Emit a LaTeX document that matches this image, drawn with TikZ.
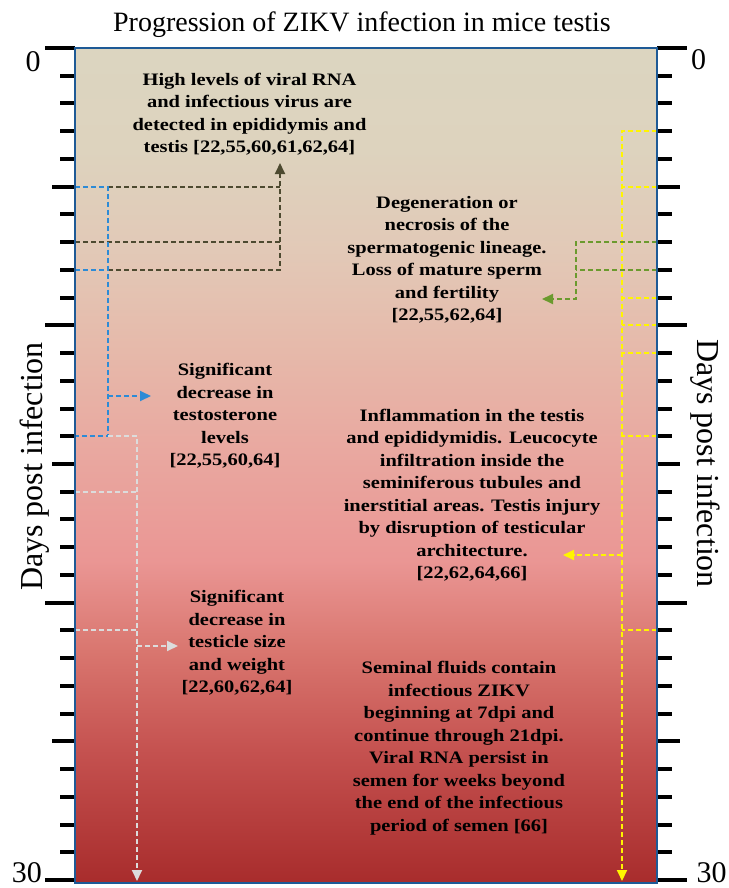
\documentclass[tikz,border=0pt]{standalone}
\usepackage{fontspec}
\setmainfont{Liberation Serif}
\newfontfamily\notefont[FakeStretch=1.17]{Liberation Serif}
\usepackage{tikz}
\usepackage{xcolor}
\usetikzlibrary{arrows.meta}
\definecolor{mFrame}{HTML}{1E5A96}
\definecolor{mOlive}{HTML}{4D4A30}
\definecolor{mBlue}{HTML}{2D8BD6}
\definecolor{mGrey}{HTML}{DCDCDC}
\definecolor{mYellow}{HTML}{FFF500}
\definecolor{mGreen}{HTML}{6B9A2E}
\definecolor{fadeA}{HTML}{DCD5C0}
\definecolor{fadeB}{HTML}{DDD3BE}
\definecolor{fadeC}{HTML}{E2C9B7}
\definecolor{fadeD}{HTML}{E6B9AA}
\definecolor{fadeE}{HTML}{E9A8A0}
\definecolor{fadeF}{HTML}{EA9694}
\definecolor{fadeG}{HTML}{D9766F}
\definecolor{fadeH}{HTML}{C55250}
\definecolor{fadeI}{HTML}{A82C2C}
\pgfdeclareverticalshading{bgfade}{100bp}{color(0bp)=(fadeI); color(25bp)=(fadeI);
  color(33bp)=(fadeH); color(38.9bp)=(fadeG); color(44.3bp)=(fadeF);
  color(50.9bp)=(fadeE); color(56.9bp)=(fadeD); color(62.9bp)=(fadeC);
  color(68.9bp)=(fadeB); color(75bp)=(fadeA); color(100bp)=(fadeA)}

\begin{document}
\begin{tikzpicture}[x=1pt, y=-1pt,
  note/.style={font=\notefont\bfseries\fontsize{17.5}{22.5}\selectfont, align=center},
  axtick/.style={line width=4pt, black},
  link/.style={dash pattern=on 5pt off 3pt, line width=1.9pt},
  tip/.style={-{Triangle[length=11pt,width=10pt]}},
]
  \useasboundingbox (0,0) rectangle (728,888);
  \shade[shading=bgfade] (75,48) rectangle (657,883);

  % day ticks on both sides
  \foreach \d in {0,...,30} {
    \pgfmathsetmacro{\tl}{mod(\d,10)==0 ? 30 : (mod(\d,5)==0 ? 23 : 15)}
    \coordinate (L\d) at (75,{48+27.733*\d});
    \coordinate (R\d) at (657,{48+27.733*\d});
    \draw[axtick] (L\d) -- ++(-\tl,0);
    \draw[axtick] (R\d) -- ++(\tl,0);
  }

  \coordinate (bx) at (108,0);
  \coordinate (gx) at (137,0);
  \coordinate (ox) at (280,0);
  \coordinate (yx) at (622,0);
  \coordinate (vx) at (576,0);
  \coordinate (olivetip) at (280,163);
  \coordinate (bluetip) at (151,396);
  \coordinate (greytip) at (178,646);
  \coordinate (greyend) at (137,881);
  \coordinate (yellowtip) at (563,555);
  \coordinate (yellowend) at (622,881);
  \coordinate (greentip) at (542,299);

  % left connectors
  \draw[link, mOlive] (L7) -- (L7 -| ox);
  \draw[link, mOlive] (L5 -| bx) -- (L5 -| ox);
  \draw[link, mOlive, tip] (L8 -| bx) -| (olivetip);
  \draw[link, mBlue] (L5) -| (L14 -| bx) -- (L14);
  \draw[link, mBlue] (L8) -- (L8 -| bx);
  \draw[link, mBlue, tip] (bluetip -| bx) -- (bluetip);
  \draw[link, mGrey, tip] (L14 -| bx) -| (greyend);
  \draw[link, mGrey] (L16) -- (L16 -| gx);
  \draw[link, mGrey] (L21) -- (L21 -| gx);
  \draw[link, mGrey, tip] (greytip -| gx) -- (greytip);

  % right connectors
  \draw[link, mYellow, tip] (R3) -| (yellowend);
  \foreach \d in {5,9,10,11,14,21}
    \draw[link, mYellow] (R\d) -- (R\d -| yx);
  \draw[link, mYellow, tip] (yellowtip -| yx) -- (yellowtip);
  \draw[link, mGreen, tip] (R7) -| (greentip -| vx) -- (greentip);
  \draw[link, mGreen] (R8) -- (R8 -| vx);

  \draw[mFrame, line width=2.5pt] (75,48) rectangle (657,883);

  \node[note] (viral) at (249.5,114) {High levels of viral RNA\\and infectious virus are\\detected in epididymis and\\testis [22,55,60,61,62,64]};
  \node[note] (sperm) at (447,260) {Degeneration or\\necrosis of the\\spermatogenic lineage.\\Loss of mature sperm\\and fertility\\{}[22,55,62,64]};
  \node[note] (testo) at (225,416) {Significant\\decrease in\\testosterone\\levels\\{}[22,55,60,64]};
  \node[note] (inflam) at (472,495) {Inflammation in the testis\\and epididymidis. Leucocyte\\infiltration inside the\\seminiferous tubules and\\inerstitial areas. Testis injury\\by disruption of testicular\\architecture.\\{}[22,62,64,66]};
  \node[note] (size) at (237,643) {Significant\\decrease in\\testicle size\\and weight\\{}[22,60,62,64]};
  \node[note] (semen) at (459,748) {Seminal fluids contain\\infectious ZIKV\\beginning at 7dpi and\\continue through 21dpi.\\Viral RNA persist in\\semen for weeks beyond\\the end of the infectious\\period of semen [66]};

  \node[font=\fontsize{28}{30}\selectfont, anchor=base] (title) at (362,32) {Progression of ZIKV infection in mice testis};
  \node[font=\fontsize{30}{32}\selectfont, anchor=base] (topL) at (33,72) {0};
  \node[font=\fontsize{30}{32}\selectfont, anchor=base] (topR) at (698.5,70) {0};
  \node[font=\fontsize{30}{32}\selectfont, anchor=base] (endL) at (27,882) {30};
  \node[font=\fontsize{30}{32}\selectfont, anchor=base] (endR) at (711.5,882) {30};
  \node[font=\fontsize{32}{34}\selectfont, rotate=90, anchor=base] (daysL) at (42,466.5) {Days post infection};
  \node[font=\fontsize{32}{34}\selectfont, rotate=-90, anchor=base] (daysR) at (697,463.5) {Days post infection};
\end{tikzpicture}
\end{document}
